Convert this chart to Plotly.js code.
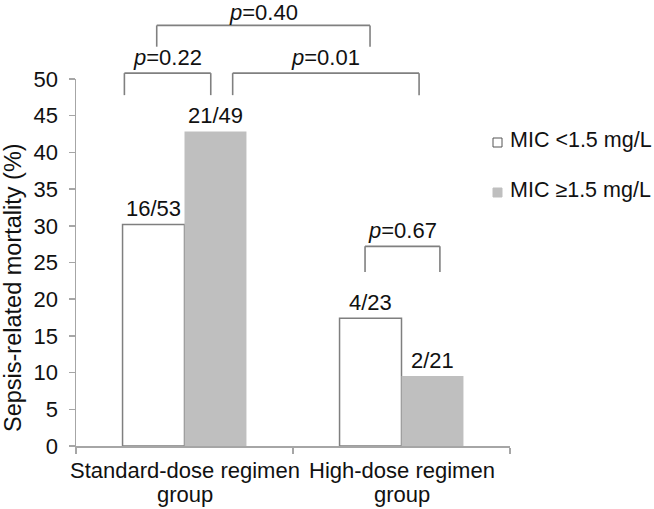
<!DOCTYPE html>
<html><head><meta charset="utf-8">
<script src="https://cdn.plot.ly/plotly-3.0.1.min.js"></script>
<style>html,body{margin:0;padding:0;background:#fff}</style>
</head><body>
<div id="chart" style="width:654px;height:509px"></div>
<script>
// ---- data ----
const groups = ['Standard-dose regimen', 'High-dose regimen'];
const groupSub = ['group', 'group'];
const seriesNames = ['MIC <1.5 mg/L', 'MIC \u22651.5 mg/L'];
const micLow = [30.19, 17.39];
const micHigh = [42.86, 9.52];
const micLowLabels = ['16/53', '4/23'];
const micHighLabels = ['21/49', '2/21'];
const yTickVals = [0, 5, 10, 15, 20, 25, 30, 35, 40, 45, 50];
// significance brackets (x in group units, y in % units)
const pLabels = ['0.22', '0.01', '0.40', '0.67'];
const bracketX0 = [-0.277, 0.222, -0.128, 0.832];
const bracketX1 = [0.121, 1.081, 0.855, 1.177];
const bracketTop = [50.8, 50.8, 57.3, 27.2];
const bracketBottom = [47.8, 47.8, 54.4, 23.7];

// ---- style ----
const FONT = 'Liberation Sans, Arial, Helvetica, sans-serif';
const FS = 22;
const TXT = '#111111';
const AXC = '#a6a6a6';
const EDGE = '#7f7f7f';
const GRAY = '#bfbfbf';
const W = 654, H = 509, ML = 76, MR = 144, MT = 79, MB = 63;
const PW = W - ML - MR, PH = H - MT - MB;
const yMax = 50;
const bargap = 0.429;
const off = (1 - bargap) / 4;
const xs = groups.map((g, i) => i);
const pxX = p => (p - ML) / PW;
const pxY = p => (H - MB - p) / PH;

const traces = [
  {type: 'bar', x: xs, y: micLow, name: seriesNames[0], showlegend: false,
   marker: {color: '#ffffff', line: {color: EDGE, width: 1.5}}},
  {type: 'bar', x: xs, y: micHigh, name: seriesNames[1], showlegend: false,
   marker: {color: GRAY, line: {width: 0}}}
];

const annotations = [];
const shapes = [];
const font = {family: FONT, size: FS, color: TXT};

// bar count labels
xs.forEach(i => {
  annotations.push({x: i - off, y: micLow[i], xref: 'x', yref: 'y', text: micLowLabels[i],
    showarrow: false, yanchor: 'bottom', yshift: 1, font: font});
  annotations.push({x: i + off, y: micHigh[i], xref: 'x', yref: 'y', text: micHighLabels[i],
    showarrow: false, yanchor: 'bottom', yshift: 1, font: font});
  // category labels (two lines)
  annotations.push({x: i, y: 0, xref: 'x', yref: 'paper', text: groups[i], showarrow: false,
    yanchor: 'top', yshift: -10, font: font});
  annotations.push({x: i, y: 0, xref: 'x', yref: 'paper', text: groupSub[i], showarrow: false,
    yanchor: 'top', yshift: -34, font: font});
});

// brackets
pLabels.forEach((lab, k) => {
  const yt = bracketTop[k] / yMax, yb = bracketBottom[k] / yMax;
  const ln = {color: '#808080', width: 1.6};
  shapes.push({type: 'line', xref: 'x', yref: 'paper', x0: bracketX0[k], x1: bracketX1[k], y0: yt, y1: yt, line: ln});
  shapes.push({type: 'line', xref: 'x', yref: 'paper', x0: bracketX0[k], x1: bracketX0[k], y0: yt, y1: yb, line: ln});
  shapes.push({type: 'line', xref: 'x', yref: 'paper', x0: bracketX1[k], x1: bracketX1[k], y0: yt, y1: yb, line: ln});
  annotations.push({x: (bracketX0[k] + bracketX1[k]) / 2, y: yt, xref: 'x', yref: 'paper',
    text: '<i>p</i>=' + lab, showarrow: false, yanchor: 'bottom', yshift: k === 2 ? -2 : 1, font: font});
});

// y-axis title
annotations.push({x: pxX(13), y: pxY(288), xref: 'paper', yref: 'paper', textangle: -90,
  text: 'Sepsis-related mortality (%)', showarrow: false, xanchor: 'center', yanchor: 'middle',
  font: {family: FONT, size: 23.5, color: TXT}});

// custom legend
const legY = [142.5, 192.5];
const legFill = ['#ffffff', GRAY];
const legLine = ['#555555', GRAY];
seriesNames.forEach((n, k) => {
  shapes.push({type: 'rect', xref: 'paper', yref: 'paper', x0: pxX(493), x1: pxX(502),
    y0: pxY(legY[k] - 4.5), y1: pxY(legY[k] + 4.5), fillcolor: legFill[k], line: {color: legLine[k], width: 1}});
  annotations.push({x: pxX(508.5), y: pxY(legY[k] - 2.5), xref: 'paper', yref: 'paper', text: n, showarrow: false,
    xanchor: 'left', yanchor: 'middle', borderpad: 0, font: {family: FONT, size: 21.5, color: TXT}});
});

const layout = {
  width: W, height: H,
  margin: {l: ML, r: MR, t: MT, b: MB, pad: 0},
  paper_bgcolor: '#ffffff', plot_bgcolor: '#ffffff',
  barmode: 'group', bargap: bargap, bargroupgap: 0,
  showlegend: false,
  font: font,
  xaxis: {type: 'linear', range: [-0.5, groups.length - 0.5], showgrid: false, zeroline: false,
    showline: true, linecolor: AXC, linewidth: 1.5,
    tickvals: [-0.5, 0.5, 1.5], ticks: 'outside', ticklen: 6, tickcolor: AXC, tickwidth: 1.5,
    showticklabels: false, fixedrange: true},
  yaxis: {range: [0, yMax], tickvals: yTickVals, showgrid: false, zeroline: false,
    showline: true, linecolor: AXC, linewidth: 1.5,
    ticks: 'outside', ticklen: 6, tickcolor: AXC, tickwidth: 1.5,
    tickfont: font, ticklabelstandoff: 6, fixedrange: true},
  annotations: annotations,
  shapes: shapes
};

Plotly.newPlot('chart', traces, layout, {displayModeBar: false, staticPlot: true});
</script>
</body></html>
